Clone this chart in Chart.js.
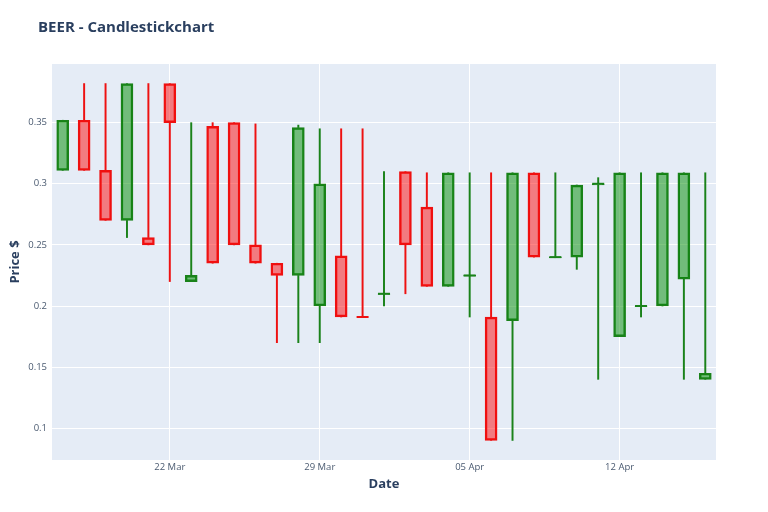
<!DOCTYPE html>
<html><head><meta charset="utf-8">
<script src="https://cdn.jsdelivr.net/npm/chart.js@4/dist/chart.umd.min.js"></script>
<style>
html,body{margin:0;padding:0;background:#fff;}
#wrap{position:relative;width:768px;height:512px;}
#title{position:absolute;left:38px;top:16px;font:bold 15px "Open Sans";color:#2a3f5f;white-space:nowrap;}
canvas{display:block;}
</style></head><body>
<div id="wrap"><canvas id="c" width="768" height="512"></canvas><div id="title">BEER - Candlestickchart</div></div>
<script>
const dates = ['17 Mar','18 Mar','19 Mar','20 Mar','21 Mar','22 Mar','23 Mar','24 Mar','25 Mar','26 Mar','27 Mar','28 Mar','29 Mar','30 Mar','31 Mar',
  '01 Apr','02 Apr','03 Apr','04 Apr','05 Apr','06 Apr','07 Apr','08 Apr','09 Apr','10 Apr','11 Apr','12 Apr','13 Apr','14 Apr','15 Apr','16 Apr'];
const openP  = [0.311,0.352,0.311,0.270,0.256,0.382,0.220,0.347,0.350,0.250,0.235,0.225,0.200,0.241,0.191,
  0.2095,0.310,0.281,0.216,0.2245,0.191,0.188,0.309,0.2395,0.240,0.299,0.175,0.1995,0.200,0.222,0.140];
const highP  = [0.352,0.382,0.382,0.382,0.382,0.382,0.350,0.350,0.350,0.349,0.235,0.348,0.345,0.345,0.345,
  0.310,0.310,0.309,0.309,0.309,0.309,0.309,0.309,0.309,0.299,0.305,0.309,0.309,0.309,0.309,0.309];
const lowP   = [0.311,0.311,0.270,0.256,0.250,0.220,0.220,0.235,0.250,0.235,0.170,0.170,0.170,0.191,0.191,
  0.200,0.210,0.216,0.216,0.191,0.090,0.090,0.240,0.2395,0.230,0.140,0.175,0.191,0.200,0.140,0.140];
const closeP = [0.352,0.311,0.270,0.382,0.250,0.350,0.225,0.235,0.250,0.235,0.225,0.346,0.300,0.191,0.191,
  0.210,0.250,0.216,0.309,0.225,0.090,0.309,0.240,0.240,0.299,0.300,0.309,0.200,0.309,0.309,0.145];
const xTickLabels = ['22 Mar','29 Mar','05 Apr','12 Apr'];
const yTickValues = [0.1,0.15,0.2,0.25,0.3,0.35];

const UP_LINE='#1a821a', UP_FILL='rgba(0,140,0,0.5)';
const DN_LINE='#ee1111', DN_FILL='rgba(255,10,10,0.5)';
const isUp = dates.map((_,i)=>closeP[i]>openP[i]);
const lineCols = isUp.map(u=>u?UP_LINE:DN_LINE);
const fillCols = isUp.map(u=>u?UP_FILL:DN_FILL);
const FONT='"Open Sans", sans-serif';
const TXT='#2a3f5f';
const TICK='#4a5a70';

const bgPlugin={id:'bg',beforeDraw(chart){const a=chart.chartArea,ctx=chart.ctx;ctx.save();ctx.fillStyle='#E5ECF6';ctx.fillRect(a.left,a.top,a.right-a.left,a.bottom-a.top);ctx.restore();}};

const wickCommon={type:'bar',backgroundColor:lineCols,borderWidth:0,barThickness:1.3,grouped:false,order:3};
new Chart(document.getElementById('c'),{
  type:'bar',
  data:{labels:dates,datasets:[
    Object.assign({label:'upper wick',data:dates.map((_,i)=>[Math.max(openP[i],closeP[i]),highP[i]])},wickCommon),
    Object.assign({label:'lower wick',data:dates.map((_,i)=>[lowP[i],Math.min(openP[i],closeP[i])])},wickCommon),
    {type:'bar',label:'body',data:dates.map((_,i)=>[openP[i],closeP[i]]),backgroundColor:fillCols,borderColor:lineCols,borderWidth:1.8,borderSkipped:false,barThickness:12,grouped:false,order:2},
    {type:'line',label:'doji',data:closeP,showLine:false,pointStyle:'line',
      pointRadius:dates.map((_,i)=>Math.abs(closeP[i]-openP[i])<0.002?6:0),
      pointBorderWidth:2,pointBorderColor:lineCols,pointBackgroundColor:lineCols,order:1}
  ]},
  options:{
    responsive:false,animation:false,
    layout:{padding:{top:64,right:52,left:0,bottom:0}},
    plugins:{legend:{display:false},tooltip:{enabled:false},title:{display:false}},
    scales:{
      x:{type:'category',offset:true,
        grid:{offset:false,drawTicks:false,color:c=>xTickLabels.includes(dates[c.index])?'#ffffff':'rgba(0,0,0,0)',lineWidth:1},
        border:{display:false},
        ticks:{autoSkip:false,maxRotation:0,padding:2,color:TICK,font:{family:FONT,size:9.5},
          callback:(v,i)=>xTickLabels.includes(dates[i])?dates[i]:''},
        title:{display:true,text:'Date',color:TXT,font:{family:FONT,size:13,weight:'bold'},padding:{top:0,bottom:20}},
        afterFit(s){s.height=52;}
      },
      y:{type:'linear',min:0.074,max:0.398,
        afterBuildTicks(s){s.ticks=yTickValues.map(v=>({value:v}));},
        grid:{drawTicks:false,color:'#ffffff',lineWidth:1},
        border:{display:false},
        ticks:{padding:5,color:TICK,font:{family:FONT,size:9.5},callback:v=>String(+v.toFixed(2))},
        title:{display:true,text:'Price $',color:TXT,font:{family:FONT,size:13,weight:'bold'},padding:{top:7,bottom:0}},
        afterFit(s){s.width=52;}
      }
    }
  },
  plugins:[bgPlugin]
});
</script>
</body></html>
